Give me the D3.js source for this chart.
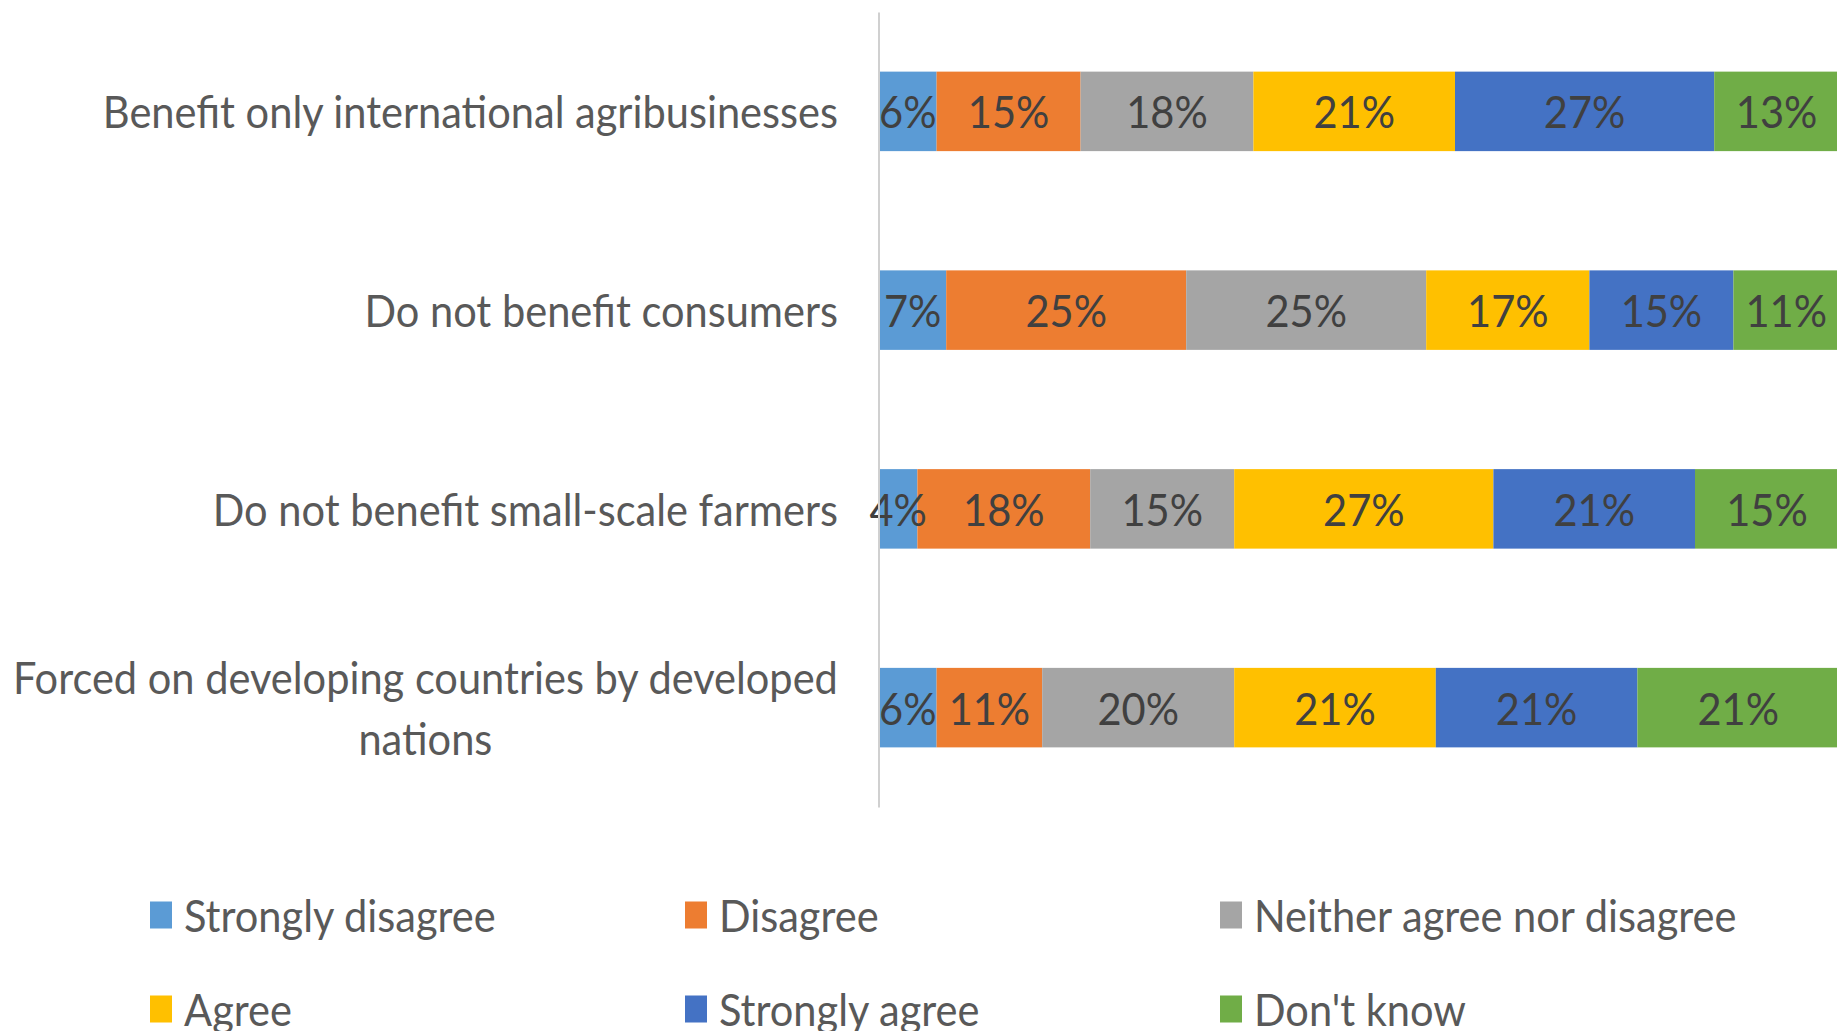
<!DOCTYPE html>
<html>
<head>
<meta charset="utf-8">
<script src="https://cdn.jsdelivr.net/npm/d3@7"></script>
<style>
  html, body { margin: 0; padding: 0; background: #fff; }
  svg { display: block; }
</style>
</head>
<body>
<script>
// Survey statements (rows) and response categories (stacked segments)
const categories = [
  "Benefit only international agribusinesses",
  "Do not benefit consumers",
  "Do not benefit small-scale farmers",
  "Forced on developing countries by developed nations"
];
const seriesNames = ["Strongly disagree", "Disagree", "Neither agree nor disagree", "Agree", "Strongly agree", "Don't know"];

// Shares (%) per statement, one array per response
const stronglyDisagree = [6, 7, 4, 6];
const disagree         = [15, 25, 18, 11];
const neither          = [18, 25, 15, 20];
const agree            = [21, 17, 27, 21];
const stronglyAgree    = [27, 15, 21, 21];
const dontKnow         = [13, 11, 15, 21];

const seriesColors = ["#5B9BD5", "#ED7D31", "#A5A5A5", "#FFC000", "#4472C4", "#70AD47"];

const W = 1837, H = 1031;
const FONT = "Lato, 'Open Sans', sans-serif";
const FS = 44;
const SX = 0.945;          // horizontal condensing applied to all text

const svg = d3.select("body").append("svg").attr("width", W).attr("height", H);

const seriesValues = [stronglyDisagree, disagree, neither, agree, stronglyAgree, dontKnow];
const rows = categories.map((c, i) => {
  const r = { category: c };
  seriesNames.forEach((s, k) => { r[s] = seriesValues[k][i]; });
  return r;
});
const stacked = d3.stack().keys(seriesNames)(rows);

const plotLeft = 879, plotRight = 1839, plotTop = 12, plotBottom = 807;
const x = d3.scaleLinear().domain([0, 100]).range([plotLeft, plotRight]);
const y = d3.scaleBand().domain(categories).range([plotTop, plotBottom]).paddingInner(0.6).paddingOuter(0.3);
const color = d3.scaleOrdinal().domain(seriesNames).range(seriesColors);

// text helper: places text at (tx, ty) and condenses it horizontally
function placeText(sel, tx, ty) {
  return sel.attr("transform", `translate(${tx},${ty}) scale(${SX},1)`)
    .attr("font-family", FONT).attr("font-size", FS);
}

// measure width of a string in the chart font (after condensing)
const measurer = svg.append("text").attr("font-family", FONT).attr("font-size", FS).attr("visibility", "hidden");
function textWidth(s) { measurer.text(s); return measurer.node().getComputedTextLength() * SX; }

// bars
const layers = svg.append("g").selectAll("g").data(stacked).join("g").attr("fill", d => color(d.key));
layers.selectAll("rect").data(d => d).join("rect")
  .attr("x", d => x(d[0]))
  .attr("y", d => y(d.data.category))
  .attr("width", d => x(d[1]) - x(d[0]))
  .attr("height", y.bandwidth());

// data labels
const labels = svg.append("g");
stacked.forEach(layer => {
  layer.forEach(d => {
    const cx = (x(d[0]) + x(d[1])) / 2;
    const cy = y(d.data.category) + y.bandwidth() / 2;
    placeText(labels.append("text"), cx, cy)
      .attr("text-anchor", "middle").attr("dominant-baseline", "central")
      .attr("fill", "#404040")
      .text(`${d[1] - d[0]}%`);
  });
});

// vertical category axis (line only)
const axis = svg.append("g").attr("transform", `translate(${plotLeft - 0.5},0)`)
  .call(d3.axisLeft(y).tickSize(0).tickFormat(""));
axis.select(".domain").attr("stroke", "#d0d0d0").attr("stroke-width", 2);

// category labels, wrapped when wider than the label area
const labelRight = 838, labelMax = 850, lineH = 61;
categories.forEach(c => {
  const words = c.split(" ");
  const lines = [];
  let cur = "";
  words.forEach(w => {
    const t = cur ? cur + " " + w : w;
    if (textWidth(t) > labelMax && cur) { lines.push(cur); cur = w; } else cur = t;
  });
  lines.push(cur);
  const cy = y(c) + y.bandwidth() / 2;
  if (lines.length === 1) {
    placeText(svg.append("text"), labelRight, cy)
      .attr("text-anchor", "end").attr("dominant-baseline", "central")
      .attr("fill", "#595959").text(c);
  } else {
    const blockW = d3.max(lines, textWidth);
    const cx = labelRight - blockW / 2;
    lines.forEach((ln, i) => {
      placeText(svg.append("text"), cx, cy + (i - (lines.length - 1) / 2) * lineH)
        .attr("text-anchor", "middle").attr("dominant-baseline", "central")
        .attr("fill", "#595959").text(ln);
    });
  }
});

// legend: 3 columns x 2 rows
const legX0 = 150, legColStep = 535, legY0 = 915, legRowStep = 94;
const swW = 22, swH = 27;
const legend = svg.append("g");
seriesNames.forEach((s, i) => {
  const col = i % 3, row = Math.floor(i / 3);
  const lx = legX0 + col * legColStep, ly = legY0 + row * legRowStep;
  legend.append("rect").attr("x", lx).attr("y", ly - swH / 2).attr("width", swW).attr("height", swH).attr("fill", color(s));
  placeText(legend.append("text"), lx + 34, ly)
    .attr("dominant-baseline", "central").attr("fill", "#595959").text(s);
});
measurer.remove();
</script>
</body>
</html>
